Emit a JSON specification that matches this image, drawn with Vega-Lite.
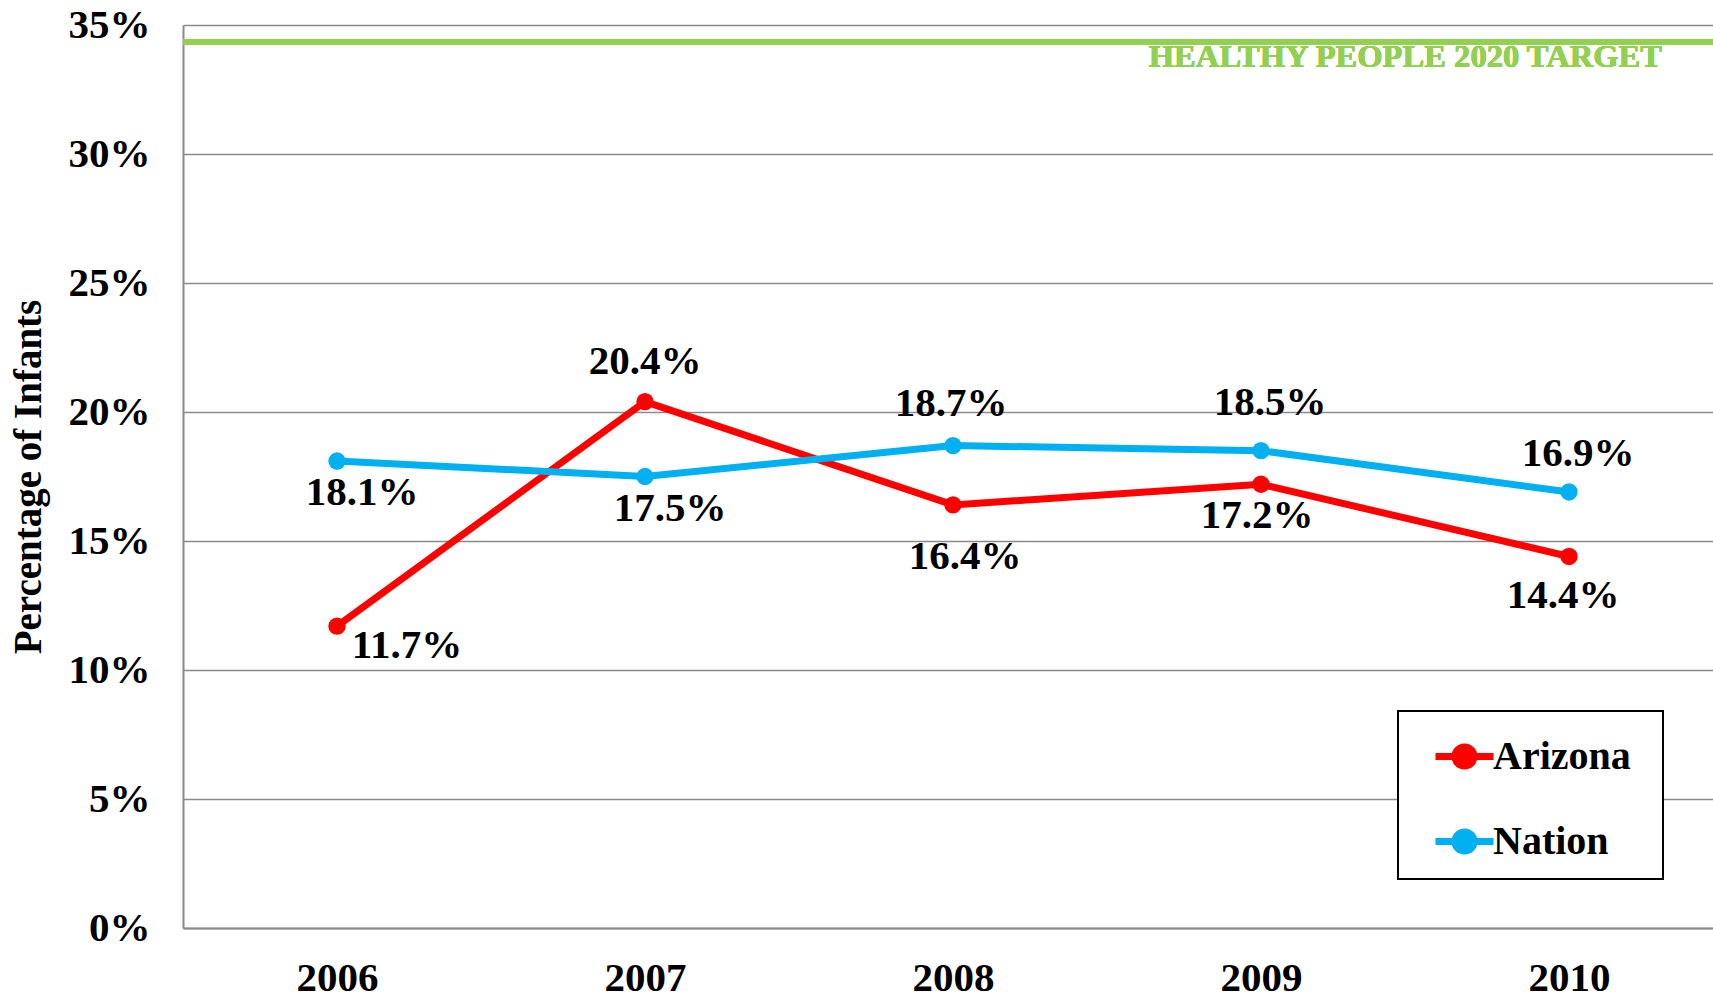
{
  "$schema": "https://vega.github.io/schema/vega-lite/v6.json",
  "width": 1530,
  "height": 903,
  "autosize": {"type": "none"},
  "padding": {"left": 183, "top": 25, "right": 0, "bottom": 72},
  "background": "white",
  "config": {
    "view": {"stroke": null},
    "font": "Liberation Serif",
    "axis": {
      "labelFont": "Liberation Serif",
      "labelFontWeight": "bold",
      "labelFontSize": 41,
      "labelColor": "black",
      "titleFont": "Liberation Serif",
      "titleFontWeight": "bold",
      "titleColor": "black",
      "ticks": false,
      "domainColor": "#8a8a8a",
      "domainWidth": 2,
      "gridColor": "#8a8a8a",
      "gridWidth": 1.5
    }
  },
  "data": {
    "values": [
      {"year": "2006", "series": "Arizona", "value": 0.117},
      {"year": "2007", "series": "Arizona", "value": 0.204},
      {"year": "2008", "series": "Arizona", "value": 0.164},
      {"year": "2009", "series": "Arizona", "value": 0.172},
      {"year": "2010", "series": "Arizona", "value": 0.144},
      {"year": "2006", "series": "Nation", "value": 0.181},
      {"year": "2007", "series": "Nation", "value": 0.175},
      {"year": "2008", "series": "Nation", "value": 0.187},
      {"year": "2009", "series": "Nation", "value": 0.185},
      {"year": "2010", "series": "Nation", "value": 0.169}
    ]
  },
  "encoding": {
    "x": {
      "field": "year", "type": "ordinal",
      "scale": {"type": "point", "padding": 0.5, "range": [0, 1540]},
      "axis": {"title": null, "labelAngle": 0, "labelPadding": 50, "grid": false, "labelBaseline": "middle", "labelFontSize": 41}
    },
    "y": {
      "field": "value", "type": "quantitative",
      "scale": {"domain": [0, 0.35], "nice": false, "zero": true},
      "axis": {
        "title": "Percentage of Infants",
        "titleFontSize": 39,
        "titlePadding": 20,
        "values": [0, 0.05, 0.1, 0.15, 0.2, 0.25, 0.3, 0.35],
        "format": ".0%",
        "labelPadding": 33,
        "grid": true
      }
    }
  },
  "layer": [
    {
      "mark": {"type": "rule", "color": "#92D050", "strokeWidth": 5},
      "encoding": {"y": {"datum": 0.3435}, "x": {"value": 0}, "x2": {"value": 1530}}
    },
    {
      "mark": {"type": "text", "text": "HEALTHY PEOPLE 2020 TARGET", "color": "#92D050", "font": "Liberation Serif", "fontWeight": "bold", "fontSize": 32.6, "align": "right", "baseline": "alphabetic", "dx": 93, "dy": 25},
      "encoding": {"x": {"datum": "2010"}, "y": {"datum": 0.3435}}
    },
    {
      "mark": {"type": "line", "strokeWidth": 7, "point": {"filled": true, "size": 300}},
      "encoding": {
        "color": {
          "field": "series", "type": "nominal",
          "scale": {"domain": ["Arizona", "Nation"], "range": ["#FF0000", "#00B0F0"]},
          "legend": {
            "title": " ",
            "titleOrient": "right",
            "titleFontSize": 40,
            "titlePadding": 19,
            "orient": "none",
            "legendX": 1215,
            "legendY": 686,
            "padding": 13,
            "strokeColor": "black",
            "fillColor": "white",
            "symbolType": "M-1,0L1,0M0.33,0A0.33,0.33,0,1,1,-0.33,0A0.33,0.33,0,1,1,0.33,0Z",
            "symbolSize": 3364,
            "symbolStrokeWidth": 7,
            "symbolOffset": 21,
            "labelOffset": -4,
            "rowPadding": 28,
            "labelFont": "Liberation Serif",
            "labelFontWeight": "bold",
            "labelFontSize": 40,
            "labelColor": "black",
            "labelBaseline": "middle",
            "encode": {
              "legend": {"update": {"strokeWidth": {"value": 2}}},
              "symbols": {"update": {"fill": {"scale": "color", "field": "value"}, "opacity": {"value": 1}}}
            }
          }
        }
      }
    },
    {
      "transform": [{"filter": "datum.series == 'Arizona' && datum.year == '2006'"}],
      "mark": {"type": "text", "font": "Liberation Serif", "fontWeight": "bold", "fontSize": 41, "baseline": "middle", "dx": 70, "dy": 20},
      "encoding": {"text": {"field": "value", "format": ".1%"}}
    },
    {
      "transform": [{"filter": "datum.series == 'Arizona' && datum.year == '2007'"}],
      "mark": {"type": "text", "font": "Liberation Serif", "fontWeight": "bold", "fontSize": 41, "baseline": "middle", "dx": 0, "dy": -40},
      "encoding": {"text": {"field": "value", "format": ".1%"}}
    },
    {
      "transform": [{"filter": "datum.series == 'Arizona' && datum.year == '2008'"}],
      "mark": {"type": "text", "font": "Liberation Serif", "fontWeight": "bold", "fontSize": 41, "baseline": "middle", "dx": 12, "dy": 52},
      "encoding": {"text": {"field": "value", "format": ".1%"}}
    },
    {
      "transform": [{"filter": "datum.series == 'Arizona' && datum.year == '2009'"}],
      "mark": {"type": "text", "font": "Liberation Serif", "fontWeight": "bold", "fontSize": 41, "baseline": "middle", "dx": -4, "dy": 32},
      "encoding": {"text": {"field": "value", "format": ".1%"}}
    },
    {
      "transform": [{"filter": "datum.series == 'Arizona' && datum.year == '2010'"}],
      "mark": {"type": "text", "font": "Liberation Serif", "fontWeight": "bold", "fontSize": 41, "baseline": "middle", "dx": -6, "dy": 40},
      "encoding": {"text": {"field": "value", "format": ".1%"}}
    },
    {
      "transform": [{"filter": "datum.series == 'Nation' && (datum.year == '2006' || datum.year == '2007')"}],
      "mark": {"type": "text", "font": "Liberation Serif", "fontWeight": "bold", "fontSize": 41, "baseline": "middle", "dx": 25, "dy": 32},
      "encoding": {"text": {"field": "value", "format": ".1%"}}
    },
    {
      "transform": [{"filter": "datum.series == 'Nation' && datum.year == '2008'"}],
      "mark": {"type": "text", "font": "Liberation Serif", "fontWeight": "bold", "fontSize": 41, "baseline": "middle", "dx": -2, "dy": -42},
      "encoding": {"text": {"field": "value", "format": ".1%"}}
    },
    {
      "transform": [{"filter": "datum.series == 'Nation' && datum.year == '2009'"}],
      "mark": {"type": "text", "font": "Liberation Serif", "fontWeight": "bold", "fontSize": 41, "baseline": "middle", "dx": 9, "dy": -48},
      "encoding": {"text": {"field": "value", "format": ".1%"}}
    },
    {
      "transform": [{"filter": "datum.series == 'Nation' && datum.year == '2010'"}],
      "mark": {"type": "text", "font": "Liberation Serif", "fontWeight": "bold", "fontSize": 41, "baseline": "middle", "dx": 9, "dy": -38},
      "encoding": {"text": {"field": "value", "format": ".1%"}}
    }
  ]
}
